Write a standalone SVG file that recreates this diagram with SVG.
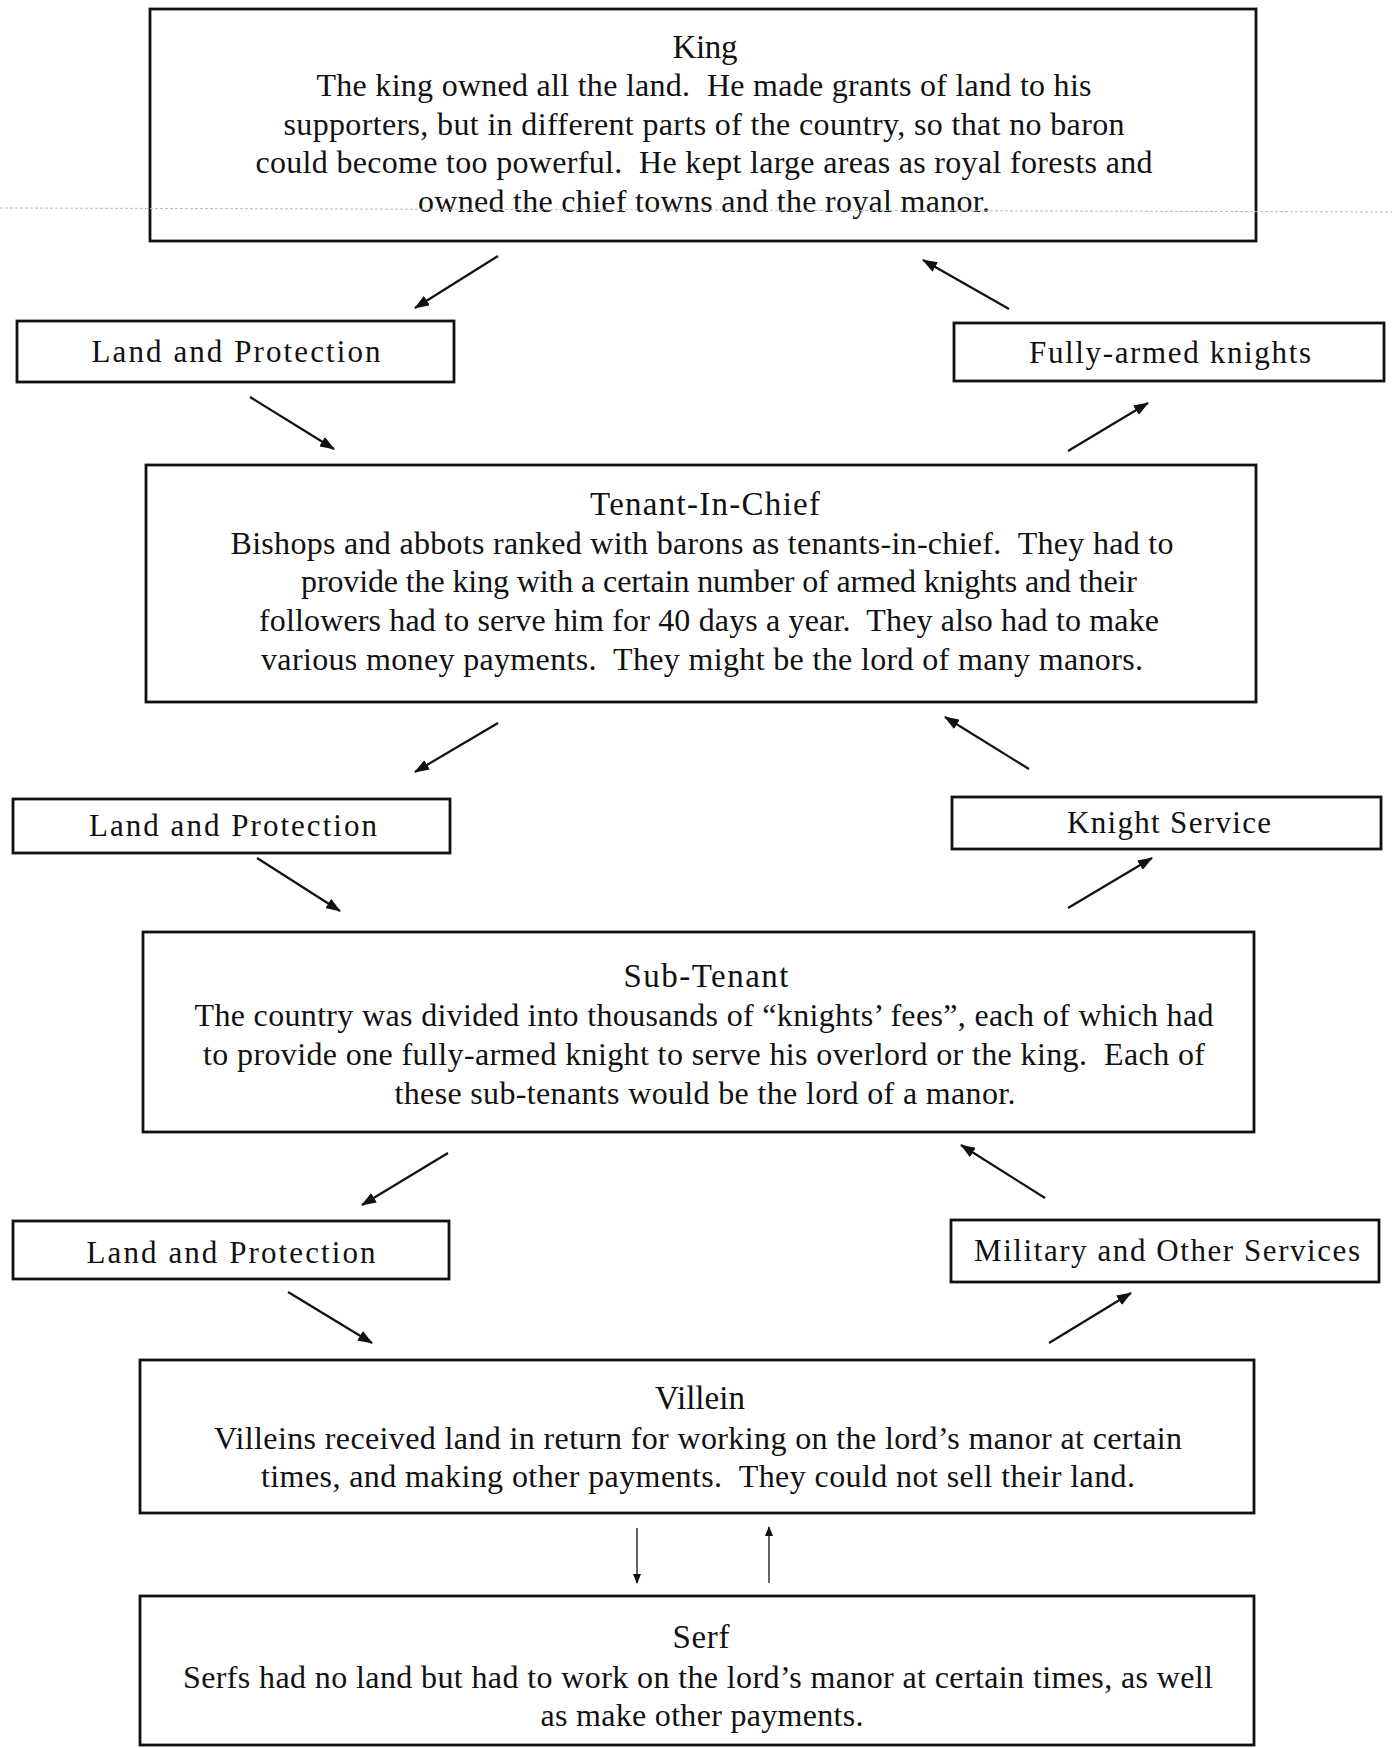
<svg xmlns="http://www.w3.org/2000/svg" width="1392" height="1748" viewBox="0 0 1392 1748">
<style>
.box{fill:#fff;stroke:#111;stroke-width:2.8}
.t{font-family:"Liberation Serif","Times New Roman",serif;font-size:32px;fill:#111;text-anchor:middle;white-space:pre}
.h{font-family:"Liberation Serif","Times New Roman",serif;font-size:33px;fill:#111;text-anchor:middle}
.lb{font-family:"Liberation Serif","Times New Roman",serif;font-size:31px;fill:#111;text-anchor:middle}
.c{stroke:#111;stroke-width:2.2;fill:none}
.cv{stroke:#111;stroke-width:1.3;fill:none}
</style>
<defs>
<marker id="ah" markerUnits="userSpaceOnUse" markerWidth="15" markerHeight="11" refX="14" refY="5.5" orient="auto"><path d="M0,0 L15,5.5 L0,11 z" fill="#111"/></marker>
<marker id="ahs" markerUnits="userSpaceOnUse" markerWidth="10" markerHeight="8" refX="9" refY="4" orient="auto"><path d="M0,0 L10,4 L0,8 z" fill="#111"/></marker>
</defs>
<rect width="1392" height="1748" fill="#fff"/>

<g id="king">
<rect class="box" x="150" y="9" width="1106" height="232"/>
<text class="h" x="705" y="58" textLength="65">King</text>
<text class="t" x="704" y="96" textLength="775" xml:space="preserve">The king owned all the land.  He made grants of land to his</text>
<text class="t" x="704" y="135" textLength="841">supporters, but in different parts of the country, so that no baron</text>
<text class="t" x="704" y="173" textLength="897" xml:space="preserve">could become too powerful.  He kept large areas as royal forests and</text>
<text class="t" x="704" y="212" textLength="572">owned the chief towns and the royal manor.</text>
</g>

<g id="lp1">
<rect class="box" x="17" y="321" width="437" height="61"/>
<text class="lb" x="236" y="362" textLength="289">Land and Protection</text>
</g>
<g id="fak">
<rect class="box" x="954" y="323" width="430" height="58"/>
<text class="lb" x="1170" y="363" textLength="282">Fully-armed knights</text>
</g>

<g id="tenant-in-chief">
<rect class="box" x="146" y="465" width="1110" height="237"/>
<text class="h" x="705" y="515" textLength="230">Tenant-In-Chief</text>
<text class="t" x="702" y="554" textLength="943" xml:space="preserve">Bishops and abbots ranked with barons as tenants-in-chief.  They had to</text>
<text class="t" x="719" y="592" textLength="836">provide the king with a certain number of armed knights and their</text>
<text class="t" x="709" y="631" textLength="900" xml:space="preserve">followers had to serve him for 40 days a year.  They also had to make</text>
<text class="t" x="702" y="670" textLength="882" xml:space="preserve">various money payments.  They might be the lord of many manors.</text>
</g>

<g id="lp2">
<rect class="box" x="13" y="799" width="437" height="54"/>
<text class="lb" x="233" y="836" textLength="288">Land and Protection</text>
</g>
<g id="ks">
<rect class="box" x="952" y="797" width="429" height="52"/>
<text class="lb" x="1169" y="833" textLength="204">Knight Service</text>
</g>

<g id="sub-tenant">
<rect class="box" x="143" y="932" width="1111" height="200"/>
<text class="h" x="706" y="987" textLength="165">Sub-Tenant</text>
<text class="t" x="704" y="1026" textLength="1019">The country was divided into thousands of “knights’ fees”, each of which had</text>
<text class="t" x="704" y="1065" textLength="1002" xml:space="preserve">to provide one fully-armed knight to serve his overlord or the king.  Each of</text>
<text class="t" x="705" y="1104" textLength="621">these sub-tenants would be the lord of a manor.</text>
</g>

<g id="lp3">
<rect class="box" x="13" y="1221" width="436" height="58"/>
<text class="lb" x="231" y="1263" textLength="289">Land and Protection</text>
</g>
<g id="mos">
<rect class="box" x="951" y="1220" width="428" height="62"/>
<text class="lb" x="1167" y="1261" textLength="386">Military and Other Services</text>
</g>

<g id="villein">
<rect class="box" x="140" y="1360" width="1114" height="153"/>
<text class="h" x="700" y="1409" textLength="90">Villein</text>
<text class="t" x="698" y="1449" textLength="968">Villeins received land in return for working on the lord’s manor at certain</text>
<text class="t" x="698" y="1487" textLength="874" xml:space="preserve">times, and making other payments.  They could not sell their land.</text>
</g>

<g id="serf">
<rect class="box" x="140" y="1596" width="1114" height="149"/>
<text class="h" x="701" y="1648" textLength="57">Serf</text>
<text class="t" x="698" y="1688" textLength="1030">Serfs had no land but had to work on the lord’s manor at certain times, as well</text>
<text class="t" x="702" y="1726" textLength="323">as make other payments.</text>
</g>

<g id="connectors">
<line class="c" x1="498" y1="256" x2="415" y2="308" marker-end="url(#ah)"/>
<line class="c" x1="1009" y1="309" x2="923" y2="260" marker-end="url(#ah)"/>
<line class="c" x1="250" y1="397" x2="334" y2="449" marker-end="url(#ah)"/>
<line class="c" x1="1068" y1="451" x2="1148" y2="403" marker-end="url(#ah)"/>
<line class="c" x1="498" y1="723" x2="415" y2="772" marker-end="url(#ah)"/>
<line class="c" x1="1029" y1="769" x2="945" y2="717" marker-end="url(#ah)"/>
<line class="c" x1="257" y1="858" x2="340" y2="911" marker-end="url(#ah)"/>
<line class="c" x1="1068" y1="908" x2="1152" y2="858" marker-end="url(#ah)"/>
<line class="c" x1="448" y1="1153" x2="362" y2="1205" marker-end="url(#ah)"/>
<line class="c" x1="1045" y1="1198" x2="961" y2="1145" marker-end="url(#ah)"/>
<line class="c" x1="288" y1="1292" x2="372" y2="1343" marker-end="url(#ah)"/>
<line class="c" x1="1049" y1="1343" x2="1131" y2="1293" marker-end="url(#ah)"/>
<line class="cv" x1="637" y1="1528" x2="637" y2="1583" marker-end="url(#ahs)"/>
<line class="cv" x1="769" y1="1583" x2="769" y2="1527" marker-end="url(#ahs)"/>
</g>
<line x1="0" y1="208" x2="1392" y2="212" stroke="#bbb" stroke-width="1" stroke-dasharray="3 2"/>
</svg>
